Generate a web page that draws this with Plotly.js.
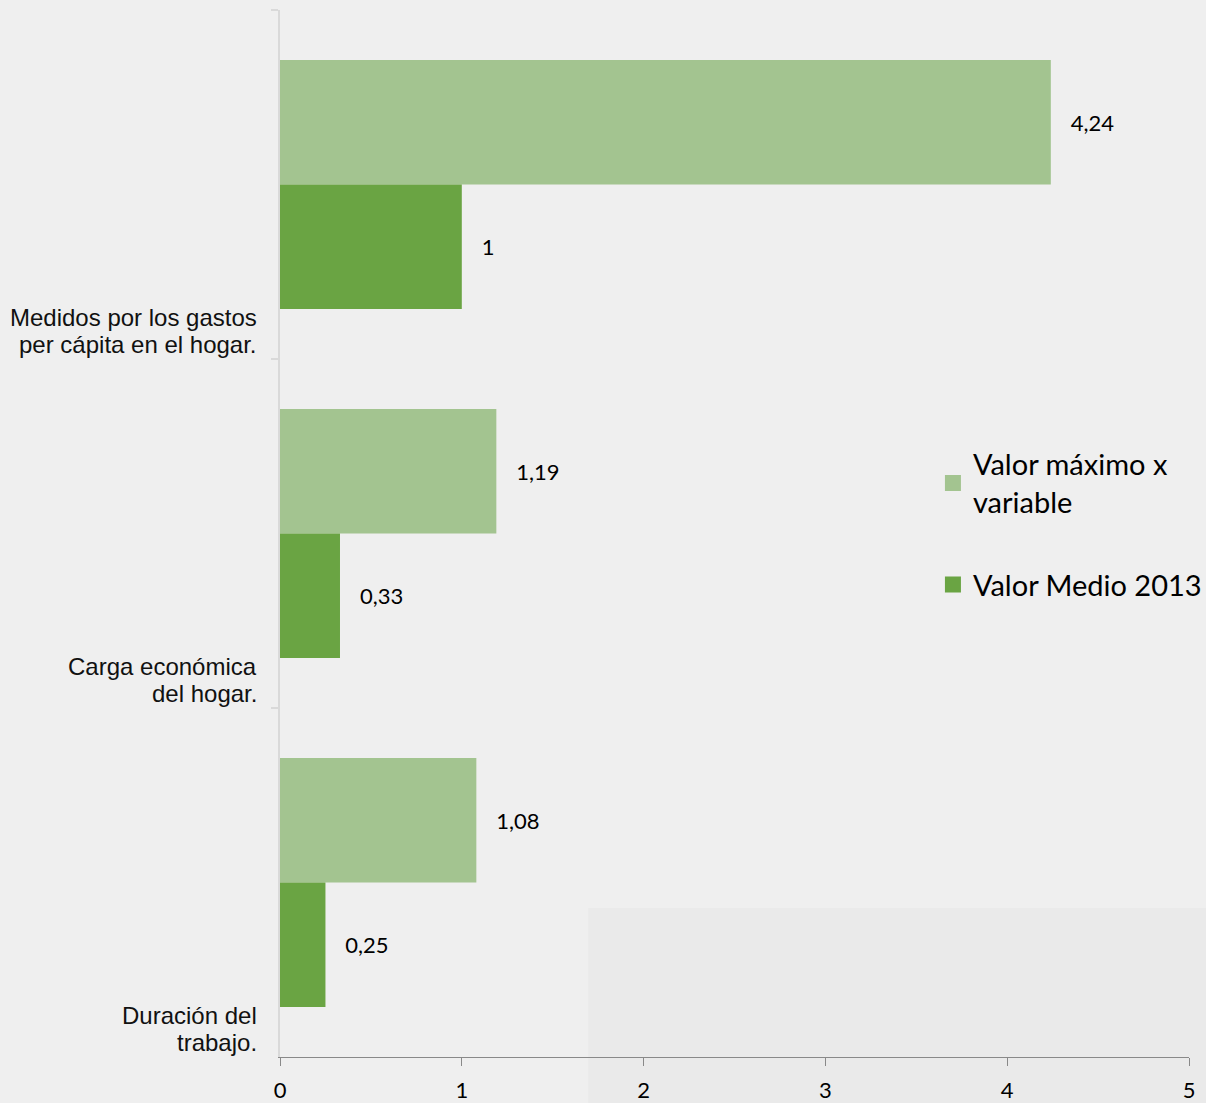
<!DOCTYPE html>
<html>
<head>
<meta charset="utf-8">
<script src="https://cdn.plot.ly/plotly-3.0.1.min.js"></script>
<style>html,body{margin:0;padding:0;background:#EFEFEF;}#chart{width:1206px;height:1103px;}</style>
</head>
<body>
<div id="chart"></div>
<script>
const categories = ["Medidos por los gastos<br>per cápita en el hogar.", "Carga económica<br>del hogar.", "Duración del<br>trabajo."];
const seriesNames = ["Valor máximo x<br>variable", "Valor Medio 2013"];
const valorMaximo = [4.24, 1.19, 1.08];
const valorMedio = [1, 0.33, 0.25];
const xTicks = [0, 1, 2, 3, 4, 5];

const colors = ["#A3C490", "#6AA443"];
const numFont = "Lato, 'Open Sans', sans-serif";
const fmt = v => String(v).replace('.', ',');
const pad = "\u00a0\u00a0\u00a0";

const traces = [valorMaximo, valorMedio].map((vals, i) => ({
  type: 'bar', orientation: 'h',
  x: vals, y: categories,
  name: seriesNames[i],
  marker: {color: colors[i]},
  text: vals.map(v => pad + fmt(v)),
  textposition: 'outside',
  cliponaxis: false,
  textfont: {family: numFont, size: 22, color: '#000'},
  showlegend: false,
  hoverinfo: 'x'
}));
seriesNames.forEach((n, i) => traces.push({
  type: 'scatter', mode: 'markers', x: [null], y: [null],
  name: n, marker: {symbol: 'square', size: 18, color: colors[i]},
  showlegend: true, legendgroup: 'g' + i
}));

const annotations = [];
categories.forEach((c, i) => {
  const lines = c.split('<br>');
  lines.forEach((ln, j) => {
    annotations.push({
      text: ln, xref: 'paper', x: 0, xanchor: 'right', xshift: -21,
      yref: 'y', y: i + 0.5, yanchor: 'middle', yshift: 15 + 27 * (lines.length - 1 - j),
      align: 'right', showarrow: false,
      font: {family: "'Liberation Sans', Arial, sans-serif", size: 24, color: '#111'}
    });
  });
});

const layout = {
  width: 1206, height: 1103,
  margin: {l: 280, r: 17, t: 10, b: 46, autoexpand: false},
  paper_bgcolor: '#EFEFEF', plot_bgcolor: 'rgba(0,0,0,0)',
  barmode: 'group', bargap: 0.287, bargroupgap: 0,
  xaxis: {
    range: [0, 5], tickvals: xTicks, ticktext: xTicks.map(String),
    showgrid: false, zeroline: false,
    showline: true, linecolor: '#898989', linewidth: 1,
    ticks: 'outside', ticklen: 8, tickcolor: '#898989',
    ticklabelstandoff: 6,
    tickfont: {family: numFont, size: 22, color: '#000'},
    fixedrange: true
  },
  yaxis: {
    type: 'category', range: [2.5, -0.5],
    showticklabels: false, showgrid: false, zeroline: false,
    showline: true, linecolor: '#D9D9D9', linewidth: 2,
    ticks: 'outside', tickson: 'boundaries', ticklen: 7, tickcolor: '#D9D9D9', tickwidth: 2,
    fixedrange: true
  },
  legend: {
    x: 0.7183, xanchor: 'left', y: 0.5905, yanchor: 'top',
    bgcolor: 'rgba(0,0,0,0)', tracegroupgap: 42,
    font: {family: numFont, size: 29, color: '#000'}
  },
  shapes: [{
    type: 'rect', layer: 'below', xref: 'paper', yref: 'paper',
    x0: 0.339, x1: 1.02, y0: 0.1423, y1: -0.045,
    line: {width: 0}, fillcolor: '#EAEAEA'
  }],
  annotations: annotations
};

Plotly.newPlot('chart', traces, layout, {displayModeBar: false, staticPlot: true});
</script>
</body>
</html>
